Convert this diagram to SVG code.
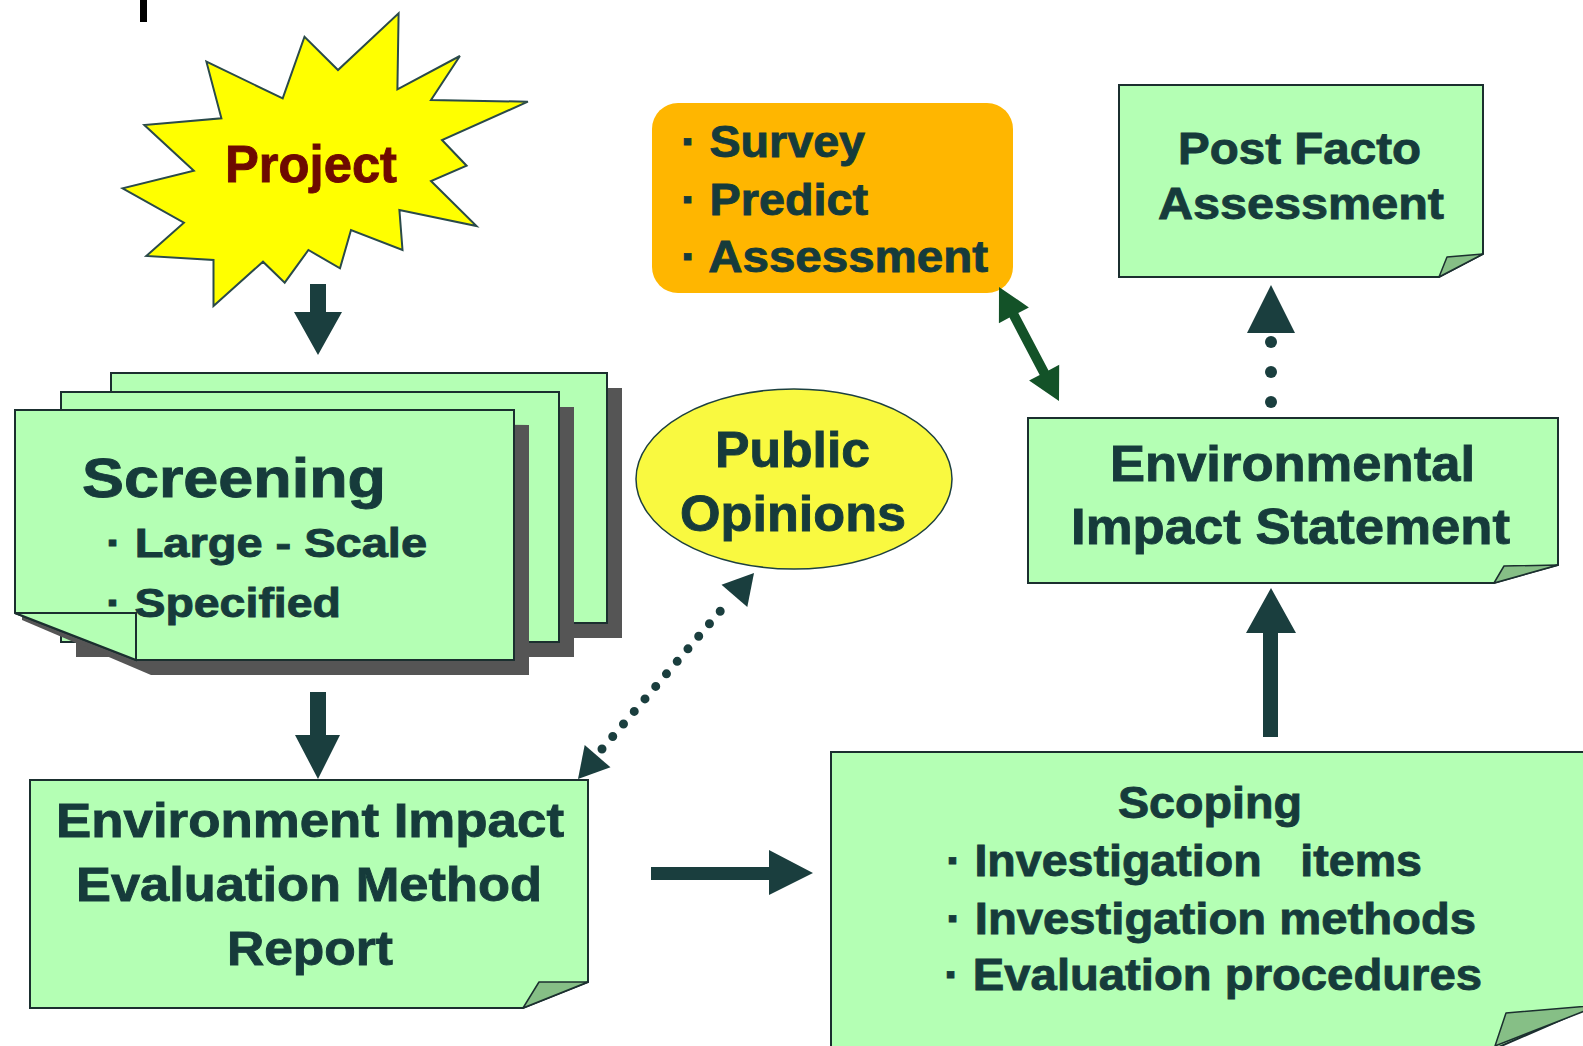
<svg xmlns="http://www.w3.org/2000/svg" width="1583" height="1046" viewBox="0 0 1583 1046">
  <style>
    .t { font-family: "Liberation Sans", Arial, sans-serif; font-weight: bold; fill: #163b3b; stroke: #163b3b; stroke-width: 0.9; }
    .sheet { fill: #b4ffb4; stroke: #1b2f2f; stroke-width: 2; }
    .flap { fill: #86bf86; stroke: #1b2f2f; stroke-width: 1.5; stroke-linejoin: round; }
    .shadow { fill: #555555; }
    .arrow { fill: #1a3e3e; }
  </style>

  <rect x="140" y="0" width="7" height="22" fill="#000000"/>

  <!-- Project starburst -->
  <g id="project">
    <polygon fill="#ffff00" stroke="#2a4a4a" stroke-width="2" stroke-linejoin="miter"
      points="398.6,13.3 397.4,89.3 459.9,56 431,100 527.9,101.7 442,140 466.6,165.7 431,181 476.5,226 399.4,210 402.5,250 351,230 340,268.3 308.4,250 284.7,282.7 263,261.7 213.5,306 213.5,260 146.3,256 183.9,222.7 122.6,188.3 193.8,170.7 144.3,125 221.4,118.3 206.4,61.7 282.7,98.3 304.5,36.7 338,70"/>
    <text class="t" x="225" y="182" font-size="52" textLength="172" lengthAdjust="spacingAndGlyphs" style="fill:#6e0a00;stroke:#6e0a00">Project</text>
  </g>

  <!-- Screening: stack of three sheets -->
  <g id="screening">
    <rect class="shadow" x="126" y="388" width="496" height="250"/>
    <rect class="sheet" x="111" y="373" width="496" height="250"/>
    <rect class="shadow" x="76" y="407" width="498" height="250"/>
    <rect class="sheet" x="61" y="392" width="498" height="250"/>
    <polygon class="shadow" points="22,418 529,425 529,675 151,675 22,620"/>
    <polygon class="sheet" points="15,410 514,410 514,660 136,660 15,613"/>
    <polygon fill="#b4ffb4" stroke="#1b2f2f" stroke-width="2" points="15,613 136,613 136,660"/>
    <text class="t" x="82" y="497" font-size="56" textLength="304" lengthAdjust="spacingAndGlyphs">Screening</text>
    <text class="t" x="106" y="557" font-size="40" textLength="321" lengthAdjust="spacingAndGlyphs">· Large - Scale</text>
    <text class="t" x="106" y="617" font-size="40" textLength="235" lengthAdjust="spacingAndGlyphs">· Specified</text>
  </g>

  <!-- Environment Impact Evaluation Method Report -->
  <g id="eie-report">
    <path class="sheet" d="M30,780 H588 V982 L523,1008 H30 Z"/>
    <path class="flap" d="M523,1008 L539,982 L588,982 Z"/>
    <text class="t" x="56" y="837" font-size="48" textLength="508" lengthAdjust="spacingAndGlyphs">Environment Impact</text>
    <text class="t" x="76" y="901" font-size="48" textLength="466" lengthAdjust="spacingAndGlyphs">Evaluation Method</text>
    <text class="t" x="227" y="965" font-size="48" textLength="166" lengthAdjust="spacingAndGlyphs">Report</text>
  </g>

  <!-- Survey / Predict / Assessment -->
  <g id="survey">
    <rect x="652" y="103" width="361" height="190" rx="26" ry="26" fill="#ffb600"/>
    <text class="t" x="681" y="157" font-size="44" textLength="184" lengthAdjust="spacingAndGlyphs">· Survey</text>
    <text class="t" x="681" y="215" font-size="44" textLength="187" lengthAdjust="spacingAndGlyphs">· Predict</text>
    <text class="t" x="681" y="272" font-size="44" textLength="307" lengthAdjust="spacingAndGlyphs">· Assessment</text>
  </g>

  <!-- Public Opinions -->
  <g id="public-opinions">
    <ellipse cx="794" cy="479" rx="158" ry="90" fill="#f9f940" stroke="#1d4040" stroke-width="1.5"/>
    <text class="t" x="715" y="467" font-size="50" textLength="155" lengthAdjust="spacingAndGlyphs">Public</text>
    <text class="t" x="680" y="531" font-size="50" textLength="226" lengthAdjust="spacingAndGlyphs">Opinions</text>
  </g>

  <!-- Post Facto Assessment -->
  <g id="post-facto">
    <path class="sheet" d="M1119,85 H1483 V254 L1439,277 H1119 Z"/>
    <path class="flap" d="M1439,277 L1447,257 L1483,254 Z"/>
    <text class="t" x="1178" y="164" font-size="44" textLength="243" lengthAdjust="spacingAndGlyphs">Post Facto</text>
    <text class="t" x="1158" y="219" font-size="44" textLength="286" lengthAdjust="spacingAndGlyphs">Assessment</text>
  </g>

  <!-- Environmental Impact Statement -->
  <g id="eis">
    <path class="sheet" d="M1028,418 H1558 V565 L1494,583 H1028 Z"/>
    <path class="flap" d="M1494,583 L1504,566 L1558,565 Z"/>
    <text class="t" x="1110" y="481" font-size="50" textLength="365" lengthAdjust="spacingAndGlyphs">Environmental</text>
    <text class="t" x="1071" y="544" font-size="50" textLength="439" lengthAdjust="spacingAndGlyphs">Impact Statement</text>
  </g>

  <!-- Scoping -->
  <g id="scoping">
    <path class="sheet" d="M831,752 H1600 V1003 L1492,1050 H831 Z"/>
    <path class="flap" d="M1495,1046 L1506,1013 L1600,1005 Z"/>
    <text class="t" x="1118" y="818" font-size="44" textLength="184" lengthAdjust="spacingAndGlyphs">Scoping</text>
    <text class="t" x="946" y="876" font-size="44" textLength="476" lengthAdjust="spacingAndGlyphs" xml:space="preserve" style="white-space:pre">· Investigation   items</text>
    <text class="t" x="946" y="934" font-size="44" textLength="530" lengthAdjust="spacingAndGlyphs">· Investigation methods</text>
    <text class="t" x="944" y="990" font-size="44" textLength="538" lengthAdjust="spacingAndGlyphs">· Evaluation procedures</text>
  </g>

  <!-- Connectors -->
  <g id="connectors">
    <!-- Project to Screening -->
    <polygon class="arrow" points="310,284 326,284 326,312 342,312 318,355 294,312 310,312"/>
    <!-- Screening to report -->
    <polygon class="arrow" points="310,692 326,692 326,735 340,735 318,779 295,735 310,735"/>
    <!-- Report to Scoping -->
    <polygon class="arrow" points="651,867 769,867 769,850 813,873 769,895 769,880 651,880"/>
    <!-- Scoping to Statement -->
    <polygon class="arrow" points="1263,737 1263,633 1246,633 1271,588 1296,633 1278,633 1278,737"/>
    <!-- Statement to Post Facto (dotted) -->
    <polygon class="arrow" points="1271,285 1295,333 1247,333"/>
    <circle class="arrow" cx="1271" cy="342" r="6"/>
    <circle class="arrow" cx="1271" cy="372" r="6"/>
    <circle class="arrow" cx="1271" cy="402" r="6"/>
    <!-- Report and Public Opinions (dotted, both ways) -->
    <line x1="602" y1="749" x2="729" y2="601" stroke="#1a3e3e" stroke-width="9" stroke-linecap="round" stroke-dasharray="0 16.5"/>
    <polygon class="arrow" points="578,779 610.5,767.3 584.7,745.1"/>
    <polygon class="arrow" points="754,573 747.3,606.9 721.5,584.7"/>
    <!-- Survey and Statement (both ways) -->
    <polygon fill="#135228" points="999,287 1028.9,307.4 1018.3,313 1048.5,370.4 1059.2,364.8 1059,401 1029.1,380.6 1039.7,375 1009.5,317.6 998.9,323.2"/>
  </g>
</svg>
